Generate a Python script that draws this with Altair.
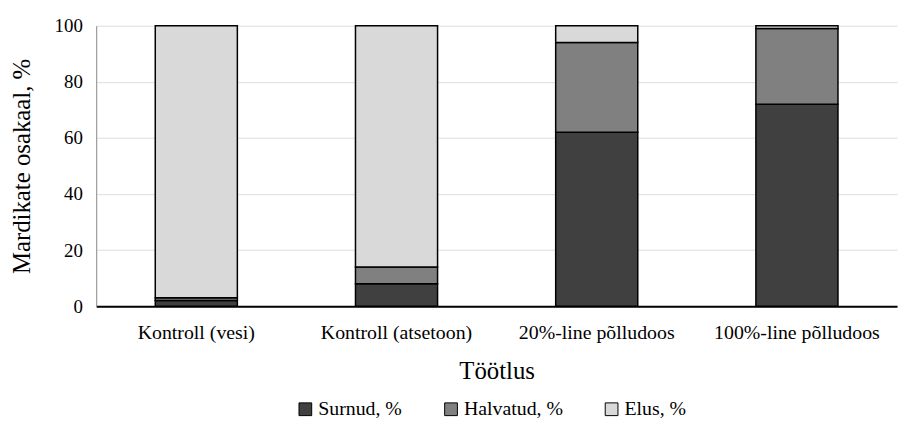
import altair as alt
import pandas as pd

categories = ["Kontroll (vesi)", "Kontroll (atsetoon)", "20%-line põlludoos", "100%-line põlludoos"]
series = ["Surnud, %", "Halvatud, %", "Elus, %"]
surnud = [2, 8, 62, 72]
halvatud = [1, 6, 32, 27]
elus = [97, 86, 6, 1]
colors = ["#404040", "#808080", "#d9d9d9"]

rows = []
for i, c in enumerate(categories):
    for j, (s, vals) in enumerate(zip(series, [surnud, halvatud, elus])):
        rows.append({"Töötlus": c, "Seeria": s, "Väärtus": vals[i], "ord": j})
df = pd.DataFrame(rows)

font = "Liberation Serif"

chart = alt.Chart(df).mark_bar(stroke="black", strokeWidth=1.5).encode(
    x=alt.X("Töötlus:N", sort=categories, scale=alt.Scale(paddingInner=0.59, paddingOuter=0.295),
            axis=alt.Axis(title="Töötlus", labelAngle=0, ticks=False, domainColor="black",
                          domainWidth=2, labelFontSize=20, labelPadding=17, titleFontSize=25,
                          titlePadding=16, labelColor="black", titleColor="black",
                          titleFontWeight="normal")),
    y=alt.Y("Väärtus:Q", stack="zero", scale=alt.Scale(domain=[0, 100], nice=False),
            axis=alt.Axis(title="Mardikate osakaal, %", values=[0, 20, 40, 60, 80, 100],
                          ticks=False, domainColor="#888888", gridColor="#dedede",
                          labelFontSize=19, labelPadding=14, titleFontSize=25, titlePadding=20,
                          labelColor="black", titleColor="black", titleFontWeight="normal")),
    color=alt.Color("Seeria:N", sort=series, scale=alt.Scale(domain=series, range=colors),
                    legend=alt.Legend(title=None, orient="none", direction="horizontal",
                                      legendX=201, legendY=377, symbolType="square",
                                      symbolStrokeColor="black", symbolStrokeWidth=1,
                                      symbolSize=165, labelFontSize=20, columnPadding=39,
                                      labelColor="black", labelOffset=3)),
    order=alt.Order("ord:Q"),
).properties(
    width=808, height=283,
    autosize=alt.AutoSizeParams(type="none"),
    padding={"left": 89, "top": 16, "right": 4, "bottom": 114},
).configure(font=font).configure_view(stroke=None)

chart.save("out.html", embed_options={"renderer": "svg", "actions": False})
